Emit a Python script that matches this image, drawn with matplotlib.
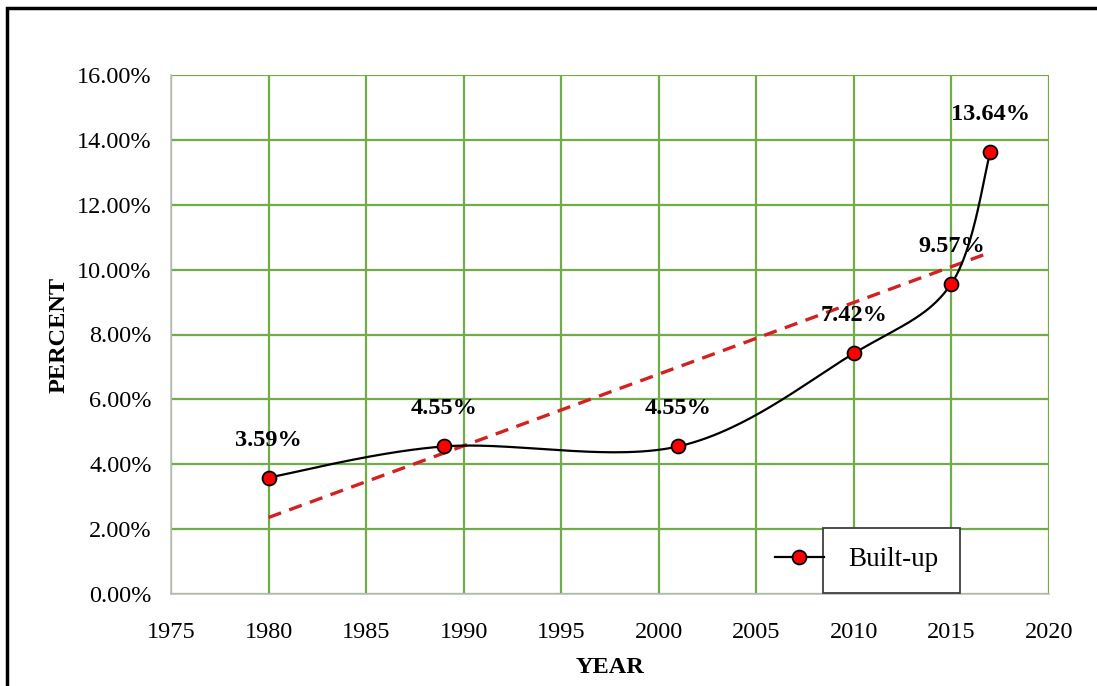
import numpy as np
import matplotlib
matplotlib.use("Agg")
import matplotlib.pyplot as plt
from matplotlib.patches import Rectangle
from matplotlib.lines import Line2D
from matplotlib.ticker import FuncFormatter

years = [1980, 1989, 2001, 2010, 2015, 2017]
built_up = [3.59, 4.55, 4.55, 7.42, 9.57, 13.64]
labels = ["3.59%", "4.55%", "4.55%", "7.42%", "9.57%", "13.64%"]
series_name = "Built-up"
x_ticks = [1975, 1980, 1985, 1990, 1995, 2000, 2005, 2010, 2015, 2020]
y_ticks = [0, 2, 4, 6, 8, 10, 12, 14, 16]

plt.rcParams['font.family'] = ['Liberation Serif', 'DejaVu Serif']

W, H = 1097, 686
fig = plt.figure(figsize=(W / 100, H / 100), dpi=100)
ax = fig.add_axes([171 / W, 1 - 594 / H, (1049 - 171) / W, (594 - 75) / H])

GREEN = '#70AD47'
ax.set_xlim(1975, 2020)
ax.set_ylim(0, 16)
ax.set_xticks(x_ticks)
ax.set_yticks(y_ticks)
ax.grid(True, color=GREEN, linewidth=1.6, zorder=0)
ax.set_axisbelow(True)
ax.tick_params(length=0, labelsize=17.5, pad=14)
ax.tick_params(axis='x', pad=20)
ax.yaxis.set_major_formatter(FuncFormatter(lambda v, p: f"{v:.2f}%"))
for side in ['top', 'right']:
    ax.spines[side].set_visible(False)
for side in ['left', 'bottom']:
    ax.spines[side].set_color('#BFBFBF')
    ax.spines[side].set_linewidth(1.2)
    ax.spines[side].set_zorder(1)

# Excel-style smoothed curve (Catmull-Rom Bezier)
xs = np.array(years, float)
ys = np.array(built_up, float)
P = np.column_stack([xs, ys])
Pext = np.vstack([P[0], P, P[-1]])
curve = []
t = np.linspace(0, 1, 60)
for i in range(len(P) - 1):
    p0, p1, p2, p3 = Pext[i], Pext[i + 1], Pext[i + 2], Pext[i + 3]
    c1 = p1 + (p2 - p0) / 6
    c2 = p2 - (p3 - p1) / 6
    seg = ((1 - t) ** 3)[:, None] * p1 + (3 * (1 - t) ** 2 * t)[:, None] * c1 \
        + (3 * (1 - t) * t ** 2)[:, None] * c2 + (t ** 3)[:, None] * p2
    curve.append(seg)
curve = np.vstack(curve)
ax.plot(curve[:, 0], curve[:, 1], color='black', lw=1.6, zorder=3)
ax.plot(xs, ys, linestyle='none', marker='o', markersize=10,
        markerfacecolor='#FF0000', markeredgecolor='black', markeredgewidth=1.3, zorder=4)

# linear trendline
coef = np.polyfit(xs, ys, 1)
tx = np.array([xs.min(), xs.max()])
ax.plot(tx, np.polyval(coef, tx), color='#D42020', lw=2.4,
        linestyle=(0, (4, 2.6)), zorder=2)

for x, y, lab in zip(years, built_up, labels):
    ax.annotate(lab, (x, y), xytext=(0, 27), textcoords='offset points',
                ha='center', va='center', fontsize=17.5, fontweight='bold', zorder=5)

ax.set_xlabel("YEAR", fontsize=17.5, fontweight='bold', labelpad=10)
ax.set_ylabel("PERCENT", fontsize=17.5, fontweight='bold', labelpad=5)

# legend
handle = Line2D([], [], color='black', lw=1.6, marker='o', markersize=10,
                markerfacecolor='#FF0000', markeredgecolor='black', markeredgewidth=1.3)
leg = ax.legend([handle], [series_name], loc='center left',
                bbox_to_anchor=((775 - 171) / 878, (594 - 560) / 519),
                frameon=False, fontsize=19.5, handlelength=1.8, handletextpad=0.9,
                borderpad=0, borderaxespad=0)
leg.set_zorder(6)
ax.add_patch(Rectangle(((823 - 171) / 878, (594 - 593) / 519),
                       (960 - 823) / 878, (593 - 528) / 519,
                       transform=ax.transAxes, facecolor='white',
                       edgecolor='#404040', lw=1.3, zorder=5.5))

# outer frame
fig.add_artist(Rectangle((7 / W, -0.2), 1.5, 1.2 - 8 / H, transform=fig.transFigure,
                         facecolor='none', edgecolor='black', lw=2.5))

fig.savefig("out.png", dpi=100)
